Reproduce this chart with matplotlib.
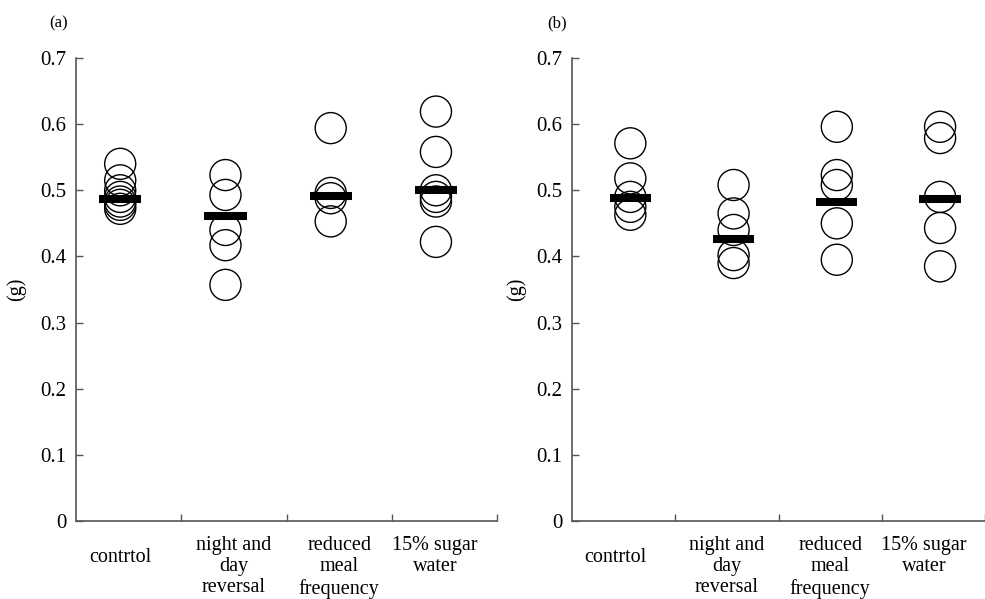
"""Body weight (g) per treatment group, panels (a) and (b): open circles = animals, bar = mean."""
import matplotlib
matplotlib.use("Agg")
import matplotlib.pyplot as plt

plt.rcParams["font.family"] = ["Liberation Serif", "DejaVu Serif"]

categories = ["contrtol", "night and\nday\nreversal", "reduced\nmeal\nfrequency", "15% sugar\nwater"]
yticks = [0, 0.1, 0.2, 0.3, 0.4, 0.5, 0.6, 0.7]
ytick_labels = ["0", "0.1", "0.2", "0.3", "0.4", "0.5", "0.6", "0.7"]

# panel (a)
a_control = [0.540, 0.515, 0.500, 0.490, 0.483, 0.478, 0.472]
a_night = [0.523, 0.493, 0.440, 0.417, 0.357]
a_reduced = [0.594, 0.496, 0.488, 0.453]
a_sugar = [0.619, 0.558, 0.500, 0.490, 0.483, 0.422]
a_means = [0.487, 0.461, 0.492, 0.500]

# panel (b)
b_control = [0.571, 0.518, 0.490, 0.475, 0.463]
b_night = [0.508, 0.465, 0.440, 0.402, 0.390]
b_reduced = [0.596, 0.523, 0.508, 0.450, 0.395]
b_sugar = [0.596, 0.579, 0.490, 0.443, 0.385]
b_means = [0.488, 0.427, 0.482, 0.487]

FS_TICK = 15
FS_CAT = 14.5
AXCOL = "#555555"
LABEL_DX = [-0.08, 0.0, 0.0, -0.09]   # small shifts of the category labels


def draw_panel(ax, groups, means, dot_dx, xmax):
    for i, vals in enumerate(groups):
        x = i + dot_dx
        ax.scatter([x] * len(vals), vals, s=500, facecolors="none",
                   edgecolors="black", linewidths=1.0, zorder=3)
        ax.hlines(means[i], x - 0.2, x + 0.2, color="black", lw=5.8, zorder=4)

    ax.set_xlim(-0.5, xmax)
    ax.set_ylim(0, 0.7)
    ax.set_yticks(yticks)
    ax.set_yticklabels(ytick_labels, fontsize=FS_TICK)
    ax.set_xticks([0.5, 1.5, 2.5, 3.5])
    ax.set_xticklabels([])
    ax.tick_params(direction="in", length=5, width=1, color=AXCOL, pad=7)
    for s in ("top", "right"):
        ax.spines[s].set_visible(False)
    for s in ("left", "bottom"):
        ax.spines[s].set_color(AXCOL)
        ax.spines[s].set_linewidth(1.2)

    trans = ax.get_xaxis_transform()
    for i, lab in enumerate(categories):
        n = lab.count("\n") + 1
        y = -0.033 if n > 1 else -0.058
        ax.text(i + LABEL_DX[i], y, lab, transform=trans, ha="center", va="top",
                fontsize=FS_CAT, linespacing=1.15, clip_on=False)
    ax.set_ylabel("(g)", fontsize=FS_CAT)


fig = plt.figure(figsize=(9.85, 5.99), dpi=100)
ax_a = fig.add_axes([76 / 985, 1 - 521 / 599, 421 / 985, 463 / 599])
ax_b = fig.add_axes([572 / 985, 1 - 521 / 599, 413 / 985, 463 / 599])

draw_panel(ax_a, [a_control, a_night, a_reduced, a_sugar], a_means, -0.08, -0.5 + 421 / 106)
draw_panel(ax_b, [b_control, b_night, b_reduced, b_sugar], b_means, 0.065, -0.5 + 413 / 106)
ax_a.yaxis.set_label_coords(-50 / 421, 0.5)
ax_b.yaxis.set_label_coords(-46 / 413, 0.5)

fig.text(59 / 985, 1 - 23 / 599, "(a)", ha="center", va="center", fontsize=12)
fig.text(557 / 985, 1 - 23 / 599, "(b)", ha="center", va="center", fontsize=12)

fig.savefig("out.png", dpi=100)
